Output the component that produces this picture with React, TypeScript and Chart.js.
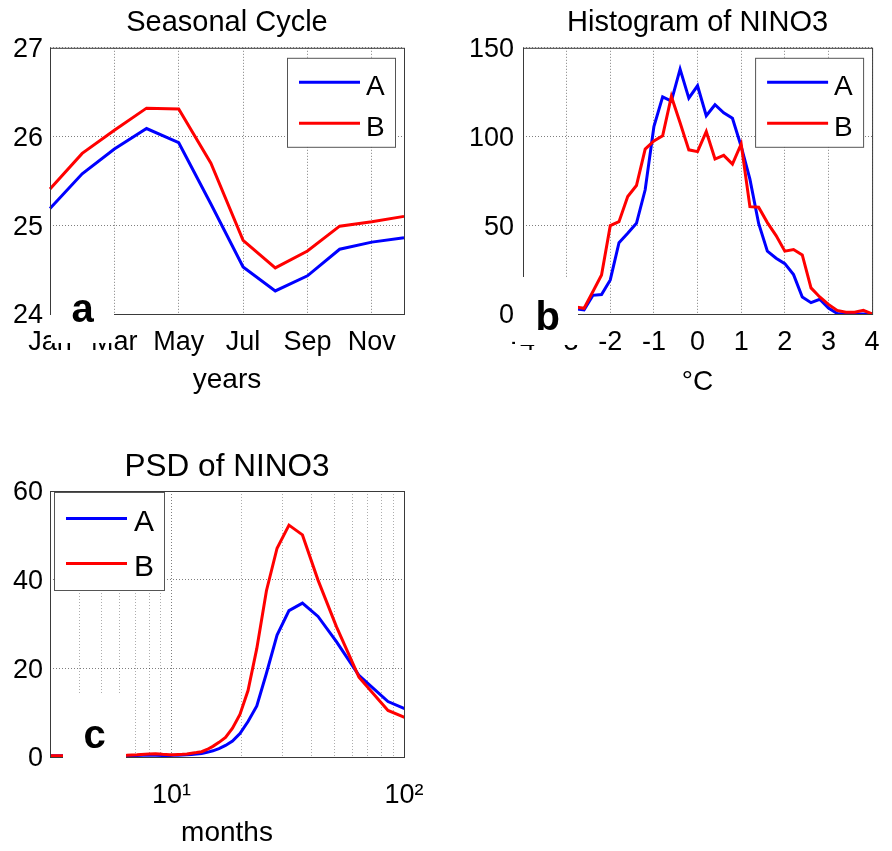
import React, { useEffect, useRef } from 'react';
import { Chart, registerables } from 'chart.js';

Chart.register(...registerables);

const FONT = '"Liberation Sans", Arial, Helvetica, sans-serif';
const BLUE = '#0000ff';
const RED = '#ff0000';
const GRID = 'rgba(0,0,0,0.5)';
const GRID_MINOR = 'rgba(0,0,0,0.32)';
const AXIS = '#3a3a3a';

// Panel a: seasonal cycle of NINO3 temperature
const MONTHS = ['Jan', 'Feb', 'Mar', 'Apr', 'May', 'Jun', 'Jul', 'Aug', 'Sep', 'Oct', 'Nov', 'Dec'];
const SEASONAL_A = [25.19, 25.58, 25.86, 26.09, 25.93, 25.24, 24.53, 24.26, 24.43, 24.73, 24.81, 24.86];
const SEASONAL_B = [25.41, 25.81, 26.07, 26.32, 26.31, 25.7, 24.83, 24.52, 24.71, 24.99, 25.04, 25.1];

// Panel b: histogram of NINO3 anomalies (bin centres in °C)
const HIST_BINS = [
  -2.8, -2.6, -2.4, -2.2, -2.0, -1.8, -1.6, -1.4, -1.2, -1.0, -0.8, -0.6, -0.4, -0.2,
  0.0, 0.2, 0.4, 0.6, 0.8, 1.0, 1.2, 1.4, 1.6, 1.8, 2.0, 2.2, 2.4, 2.6, 2.8, 3.0,
  3.2, 3.4, 3.6, 3.8, 4.0,
];
const HIST_A = [
  3, 2.3, 10.5, 11, 19.2, 40.2, 45.5, 51.1, 70, 105.6, 122.4, 120, 138, 121.6,
  128.6, 111.7, 117.9, 113.4, 110.3, 94.4, 76, 51, 35.4, 31.4, 28.4, 22.2, 9.6, 6.4, 8.3, 3.4,
  0.3, 0, 0, 0, 0,
];
const HIST_B = [
  4, 3.2, 12.5, 22, 49.8, 52, 66.2, 72.4, 92.9, 97.5, 100.4, 122.6, 107.8, 92.5,
  91.5, 102.8, 87.3, 89.4, 84.5, 95.8, 60.5, 60.2, 51.5, 44.2, 35.4, 36.3, 33.3, 14.7, 9.6, 5.4,
  2.0, 1.0, 1.0, 2.1, 0,
];

// Panel c: power spectral density of NINO3 against period (months)
const PSD_PERIODS = [
  3.01, 3.56, 4.0, 4.57, 5.33, 6.4, 7.11, 8.0, 8.53, 9.14, 9.85, 10.24, 10.67, 11.13,
  11.64, 12.19, 12.8, 13.47, 14.22, 15.06, 16.0, 17.07, 18.29, 19.69, 21.33, 23.27,
  25.6, 28.44, 32.0, 36.57, 42.67, 51.2, 64.0, 85.33, 128.0,
];
const PSD_A = [
  0.3, 0.3, 0.3, 0.3, 0.3, 0.3, 0.35, 0.45, 0.4, 0.35, 0.35, 0.4, 0.4, 0.45,
  0.5, 0.55, 0.65, 0.8, 1.05, 1.4, 1.9, 2.6, 3.6, 5.3, 8.0, 11.5,
  18.9, 27.5, 33.0, 34.7, 31.7, 26.0, 18.4, 12.5, 8.6,
];
const PSD_B = [
  0.3, 0.3, 0.3, 0.35, 0.35, 0.4, 0.5, 0.7, 0.75, 0.6, 0.5, 0.5, 0.55, 0.6,
  0.7, 0.85, 1.0, 1.2, 1.7, 2.4, 3.3, 4.4, 6.5, 9.6, 15.0, 24.5,
  37.5, 47.1, 52.3, 50.1, 39.9, 29.4, 18.0, 10.5, 6.7,
];
const PSD_TICKS = [3, 4, 5, 6, 7, 8, 9, 10, 20, 30, 40, 50, 60, 70, 80, 90, 100];

type LegendCfg = {
  anchor: 'left' | 'right';
  dx: number;
  dy: number;
  w: number;
  h: number;
  rows: number[];
  baselines: number[];
  lineX0: number;
  lineX1: number;
  textX: number;
  fontSize: number;
};
type LetterCfg = { text: string; rect: [number, number, number, number]; x: number; y: number };

// Axes box, in-axes legend and the panel letter on its white patch
function makeDecor(legend: LegendCfg, letter: LetterCfg) {
  return {
    id: 'panelDecor',
    afterDatasetsDraw(chart: any) {
      const { ctx, chartArea: a } = chart;
      ctx.save();
      ctx.strokeStyle = AXIS;
      ctx.lineWidth = 1;
      ctx.strokeRect(a.left + 0.5, a.top + 0.5, a.right - a.left, a.bottom - a.top);
      ctx.restore();
    },
    afterDraw(chart: any) {
      const { ctx, chartArea: a } = chart;
      ctx.save();
      const x0 = legend.anchor === 'right' ? a.right - legend.dx - legend.w : a.left + legend.dx;
      const y0 = a.top + legend.dy;
      ctx.fillStyle = '#ffffff';
      ctx.fillRect(x0, y0, legend.w, legend.h);
      ctx.strokeStyle = '#555555';
      ctx.lineWidth = 1;
      ctx.strokeRect(x0 + 0.5, y0 + 0.5, legend.w, legend.h);
      chart.data.datasets.forEach((ds: any, i: number) => {
        const ly = y0 + legend.rows[i] + 0.5;
        ctx.strokeStyle = ds.borderColor;
        ctx.lineWidth = 3;
        ctx.beginPath();
        ctx.moveTo(x0 + legend.lineX0, ly);
        ctx.lineTo(x0 + legend.lineX1, ly);
        ctx.stroke();
        ctx.fillStyle = '#000000';
        ctx.font = `${legend.fontSize}px ${FONT}`;
        ctx.textAlign = 'left';
        ctx.textBaseline = 'alphabetic';
        ctx.fillText(ds.label, x0 + legend.textX, y0 + legend.baselines[i]);
      });
      const [rx, ry, rw, rh] = letter.rect;
      ctx.fillStyle = '#ffffff';
      ctx.fillRect(rx, ry, rw, rh);
      ctx.fillStyle = '#000000';
      ctx.font = `bold 40px ${FONT}`;
      ctx.textAlign = 'left';
      ctx.textBaseline = 'alphabetic';
      ctx.fillText(letter.text, letter.x, letter.y);
      ctx.restore();
    },
  };
}

const tickFont = { family: FONT, size: 27 };
const labelFont = { family: FONT, size: 28 };

// Series B is plotted after A, so it sits on top (lower order draws last)
function lineSet(label: string, data: any[], color: string, order: number) {
  return {
    label,
    data,
    order,
    borderColor: color,
    backgroundColor: color,
    borderWidth: 3,
    pointRadius: 0,
    tension: 0,
    fill: false,
  };
}

// Title spans only the plot area so it is centred over the axes
function titleOpts(text: string, size: number, top: number, bottom: number) {
  return {
    display: true,
    fullSize: false,
    text,
    color: '#000',
    font: { family: FONT, size, weight: 'normal' },
    padding: { top, bottom },
  };
}

function seasonalConfig(): any {
  return {
    type: 'line',
    data: {
      labels: MONTHS,
      datasets: [lineSet('A', SEASONAL_A, BLUE, 1), lineSet('B', SEASONAL_B, RED, 0)],
    },
    options: {
      responsive: false,
      animation: false,
      layout: { padding: { left: 0, right: 42, top: 0, bottom: 0 } },
      plugins: {
        legend: { display: false },
        tooltip: { enabled: false },
        title: titleOpts('Seasonal Cycle', 29, 5.5, 7.5),
      },
      scales: {
        x: {
          type: 'category',
          offset: false,
          grid: {
            drawTicks: false,
            color: (c: any) => (c.index % 2 === 0 ? GRID : 'rgba(0,0,0,0)'),
          },
          border: { display: false, dash: [1, 2] },
          ticks: {
            autoSkip: false,
            maxRotation: 0,
            minRotation: 0,
            padding: 12.4,
            color: '#000',
            font: tickFont,
            callback: (_v: any, i: number) => (i % 2 === 0 ? MONTHS[i] : ''),
          },
          title: { display: true, text: 'years', color: '#000', font: labelFont, padding: { top: 0, bottom: 22.9 } },
          afterFit: (s: any) => {
            s.height = 106;
          },
        },
        y: {
          type: 'linear',
          min: 24,
          max: 27,
          grid: { drawTicks: false, color: GRID },
          border: { display: false, dash: [1, 2] },
          ticks: { stepSize: 1, padding: 7, labelOffset: 2, color: '#000', font: tickFont },
          afterFit: (s: any) => {
            s.width = 50;
          },
        },
      },
    },
    plugins: [
      makeDecor(
        { anchor: 'right', dx: 9, dy: 10, w: 108, h: 89, rows: [24, 65], baselines: [37, 78], lineX0: 12, lineX1: 73, textX: 79, fontSize: 28 },
        { text: 'a', rect: [51, 282, 63, 61], x: 71.5, y: 322 },
      ),
    ],
  };
}

function histogramConfig(): any {
  const pts = (ys: number[]) => HIST_BINS.map((x, i) => ({ x, y: ys[i] }));
  return {
    type: 'line',
    data: {
      datasets: [lineSet('A', pts(HIST_A), BLUE, 1), lineSet('B', pts(HIST_B), RED, 0)],
    },
    options: {
      responsive: false,
      animation: false,
      layout: { padding: { left: 0, right: 16, top: 0, bottom: 0 } },
      plugins: {
        legend: { display: false },
        tooltip: { enabled: false },
        title: titleOpts('Histogram of NINO3', 29, 5.5, 7.5),
      },
      scales: {
        x: {
          type: 'linear',
          min: -4,
          max: 4,
          grid: { drawTicks: false, color: GRID },
          border: { display: false, dash: [1, 2] },
          ticks: { stepSize: 1, maxRotation: 0, padding: 12.4, color: '#000', font: tickFont },
          title: { display: true, text: '°C', color: '#000', font: labelFont, padding: { top: 0, bottom: 20.9 } },
          afterFit: (s: any) => {
            s.height = 106;
          },
        },
        y: {
          type: 'linear',
          min: 0,
          max: 150,
          grid: { drawTicks: false, color: GRID },
          border: { display: false, dash: [1, 2] },
          ticks: { stepSize: 50, padding: 9, labelOffset: 2, color: '#000', font: tickFont },
          afterFit: (s: any) => {
            s.width = 77;
          },
        },
      },
    },
    plugins: [
      makeDecor(
        { anchor: 'right', dx: 9, dy: 10, w: 108, h: 89, rows: [24, 65], baselines: [37, 78], lineX0: 12, lineX1: 73, textX: 79, fontSize: 28 },
        { text: 'b', rect: [69, 277, 63, 68], x: 89.5, y: 330 },
      ),
    ],
  };
}

function psdConfig(): any {
  const pts = (ys: number[]) => PSD_PERIODS.map((x, i) => ({ x, y: ys[i] }));
  return {
    type: 'line',
    data: {
      datasets: [lineSet('A', pts(PSD_A), BLUE, 1), lineSet('B', pts(PSD_B), RED, 0)],
    },
    options: {
      responsive: false,
      animation: false,
      layout: { padding: { left: 0, right: 42, top: 0, bottom: 0 } },
      plugins: {
        legend: { display: false },
        tooltip: { enabled: false },
        title: titleOpts('PSD of NINO3', 31.5, 28.4, 4.8),
      },
      scales: {
        x: {
          type: 'logarithmic',
          min: 3,
          max: 100,
          afterBuildTicks: (s: any) => {
            s.ticks = PSD_TICKS.map((value) => ({ value }));
          },
          grid: {
            drawTicks: false,
            color: (c: any) => (c.tick && (c.tick.value === 10 || c.tick.value === 100) ? GRID : GRID_MINOR),
          },
          border: { display: false, dash: [1, 2] },
          ticks: {
            autoSkip: false,
            maxRotation: 0,
            padding: 22.4,
            color: '#000',
            font: tickFont,
            callback: (v: any) => (v === 10 ? '10¹' : v === 100 ? '10²' : ''),
          },
          title: { display: true, text: 'months', color: '#000', font: labelFont, padding: { top: 0, bottom: 0.9 } },
          afterFit: (s: any) => {
            s.height = 94;
          },
        },
        y: {
          type: 'linear',
          min: 0,
          max: 60,
          grid: { drawTicks: false, color: GRID },
          border: { display: false, dash: [1, 2] },
          ticks: { stepSize: 20, padding: 7, labelOffset: 2, color: '#000', font: tickFont },
          afterFit: (s: any) => {
            s.width = 50;
          },
        },
      },
    },
    plugins: [
      makeDecor(
        { anchor: 'left', dx: 4, dy: 1, w: 110, h: 98, rows: [26, 71], baselines: [39, 84], lineX0: 12, lineX1: 73, textX: 80, fontSize: 30 },
        { text: 'c', rect: [63, 275, 63, 83], x: 83.5, y: 328 },
      ),
    ],
  };
}

export default function App() {
  const refA = useRef<HTMLCanvasElement>(null);
  const refB = useRef<HTMLCanvasElement>(null);
  const refC = useRef<HTMLCanvasElement>(null);

  useEffect(() => {
    const charts: Chart[] = [];
    if (refA.current) charts.push(new Chart(refA.current, seasonalConfig()));
    if (refB.current) charts.push(new Chart(refB.current, histogramConfig()));
    if (refC.current) charts.push(new Chart(refC.current, psdConfig()));
    return () => charts.forEach((c) => c.destroy());
  }, []);

  const abs = (left: number, top: number): React.CSSProperties => ({ position: 'absolute', left, top, display: 'block' });

  return (
    <div style={{ position: 'absolute', left: 0, top: 0, width: 892, height: 851, background: '#ffffff', overflow: 'hidden' }}>
      <canvas ref={refA} width={446} height={420} style={abs(0, 0)} />
      <canvas ref={refB} width={446} height={420} style={abs(446, 0)} />
      <canvas ref={refC} width={446} height={431} style={abs(0, 420)} />
    </div>
  );
}
